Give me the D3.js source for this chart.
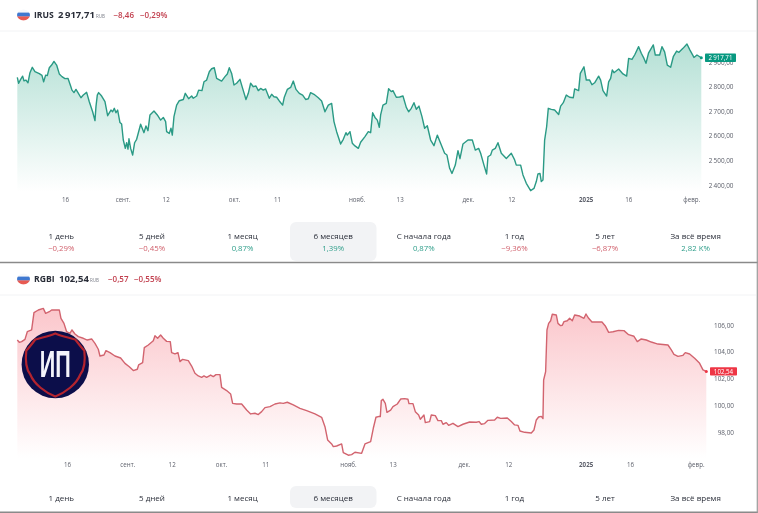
<!DOCTYPE html>
<html>
<head>
<meta charset="utf-8">
<script src="https://cdn.jsdelivr.net/npm/d3@7"></script>
<style>
  html, body { margin: 0; padding: 0; background: #fff; }
  svg { display: block; font-family: "Open Sans", sans-serif; filter: blur(0.4px); }
</style>
</head>
<body>
<div id="chart"></div>
<script>
// session position of every traced point, 0 = left end of the chart
const irusBars = [
  0,4,10,16,20,26,32,38,45,53, 66,74,79,85,90,96,103,110,118,126,
  134,143,152,160,164,170,176,182,191,198, 208,216,226,233,236,240,244,253,263,271,
  281,286,291,296,301,308,313,318,324,328, 332,335,340,346,352,358,370,380,386,392,
  398,410,420,430,438,445,448,456,461,465, 470,478,486,498,504,514,523,528,538,544,
  554,560,568,576,583,591,598,613,623,630, 636,643,650,658,668,676,686,693,700,708,
  716,723,730,738,745,756,763,770,778,786, 796,801,810,820,828,836,846,856,865,873,
  880,890,903,913,923,933,943,950,958,970, 978,986,990,998,1005,1013,1023,1030,1043,1053,
  1060,1066,1073,1080,1086,
  1090,1097,1107,1114,1122,1127,1137,1147,1157,1167, 1174,1182,1190,1197,1205,1214,1222,1230,1240,1250,
  1260,1272,1282,1289,1297,1304,1314,1322,1328,1337, 1352,1365,1374,1384,1390,1400,1408,1412,1420,1425,
  1434,1442,1452,1467,1482,1492,1497,1510,1517,1527, 1540,1550,1557,1562,1568,1572,1577,1582,1588,1593,
  1602,1612,1624,1630,1638,1647,1657,1668,1672,1684, 1689,1700,1707,1717,1724,1732,1744,1750,1757,1768,
  1774,1780,1785,1790,1804,1817,1828,1834,1844,1852, 1864,1872,1880,1886,1894,1908,1914,1927,1934,1942,
  1950,1960,1968,1978,1985,1997,2009,2018,2030,2039, 2052
];
const irusValues = [
  2838,2814,2830,2843,2824,2827,2816,2857,2879,2861, 2853,2846,2820,2847,2845,2877,2888,2903,2888,2852,
  2841,2833,2834,2803,2786,2776,2789,2776,2755,2766, 2777,2739,2698,2662,2719,2766,2776,2762,2739,2682,
  2705,2698,2712,2694,2705,2654,2648,2583,2549,2572, 2546,2588,2549,2522,2572,2586,2647,2613,2640,2621,
  2685,2701,2685,2664,2675,2658,2617,2610,2631,2603, 2678,2725,2743,2748,2773,2751,2762,2753,2762,2786,
  2784,2820,2827,2861,2873,2877,2834,2823,2841,2852, 2877,2854,2807,2814,2830,2793,2748,2773,2814,2800,
  2803,2784,2793,2786,2791,2753,2769,2759,2757,2742, 2725,2757,2789,2797,2823,2789,2773,2766,2748,2751,
  2776,2769,2755,2742,2698,2725,2732,2658,2617,2567, 2586,2613,2603,2617,2570,2559,2549,2574,2597,2617,
  2613,2694,2675,2664,2635,
  2685,2725,2732,2792,2780,2784,2757,2758,2762,2716, 2698,2712,2735,2708,2721,2678,2631,2641,2583,2560,
  2603,2563,2529,2522,2468,2447,2481,2540,2507,2567, 2583,2583,2542,2549,2529,2481,2445,2515,2522,2542,
  2549,2572,2529,2508,2529,2502,2481,2481,2441,2407, 2377,2386,2414,2445,2447,2414,2420,2583,2637,2712,
  2708,2705,2687,2721,2735,2766,2757,2755,2791,2784, 2854,2881,2827,2827,2808,2816,2843,2827,2784,2762,
  2820,2834,2868,2857,2872,2852,2843,2915,2911,2929, 2963,2936,2915,2895,2938,2970,2929,2929,2963,2942,
  2888,2879,2922,2945,2940,2956,2974,2949,2919,2929, 2917.71
];
const rgbiBars = [
  0,6,13,23,30,43,50,63,78,85, 96,103,126,131,140,148,158,164,173,183,
  198,210,223,233,243,248,260,266,278,293, 310,323,336,348,360,364,376,381,393,408,
  413,421,430,438,448,459,463,473,482,488, 496,513,523,533,543,553,560,568,580,588,
  596,608,613,628,640,646,658,673,688,700, 713,723,733,743,758,773,788,798,810,828,
  848,868,893,913,923,931,943,948,958,973, 978,993,1003,1013,1033,1043,1060,1068,1076,1086,
  1089,1092,1097,1104,1109,1120,1127,1140,1150,1162, 1172,1175,1187,1194,1204,1209,1220,1224,1237,1242,
  1254,1262,1272,1277,1287,1294,1307,1322,1337,1357, 1377,1385,1392,1402,1412,1432,1440,1450,1470,1482,
  1492,1502,1508,1522,1542,1550,1557,1564,1572,1577, 1579,1585,1589,1594,1600,1605,1617,1622,1630,1635,
  1640,1650,1657,1665,1672,1687,1700,1706,1714,1724, 1754,1764,1774,1787,1804,1820,1834,1850,1860,1872,
  1887,1902,1922,1952,1962,1970,1982,1997,2004,2017, 2032,2047,2057,2067
];
const rgbiValues = [
  104.88,104.71,104.76,104.93,105.5,105.63,106.92,107.12,107.24,106.87, 106.99,107.12,107.12,106.5,106.12,105.5,105.38,105.63,105.33,105.13,
  105.01,104.88,104.96,104.63,104.19,103.69,103.76,104.09,103.94,103.69, 103.54,103.14,102.89,102.6,102.7,103.02,103.19,104.31,104.51,104.83,
  105.2,105.01,105.25,105.01,104.78,104.76,103.94,103.84,103.94,103.27, 103.44,103.34,102.94,102.4,102.2,102.1,102.2,102.1,102.27,102.15,
  102.3,102.3,101.35,101.11,100.86,100.16,100.11,100.11,99.66,99.37, 99.42,99.32,99.54,99.84,99.91,100.11,100.19,100.16,100.24,100.04,
  99.79,99.61,99.37,99.12,98.42,97.43,97.13,96.93,96.98,97.13, 96.48,96.29,96.34,96.51,96.43,97.13,97.3,98.3,99.12,99.19,
  99.17,100.36,100.46,100.16,99.49,99.66,99.91,100.11,100.48,100.51, 100.46,100.14,100.14,99.54,99.29,98.97,99.29,98.72,98.8,99.29,
  99.24,98.87,98.87,98.6,98.72,98.52,98.67,98.42,98.6,98.77, 98.75,98.8,98.6,98.65,98.89,98.92,99.12,99.04,99.07,98.8,
  98.55,98.52,98.1,98,97.95,98.17,98.92,99.14,99.19,99.02, 101.9,102.52,105.63,106.12,106.32,106.8,106.75,106.12,105.95,105.98,
  106.25,106.32,106.5,106.32,106.75,106.67,106.5,106.82,106.5,106.22, 106.22,105.93,105.45,105.5,105.6,105.58,105.28,105.16,104.76,104.96,
  104.88,104.73,104.58,104.51,104.14,103.81,103.66,103.74,103.94,103.84, 103.52,103.14,102.65,102.54
];

const xTickLabels = ["16","сент.","12","окт.","11","нояб.","13","дек.","12","2025","16","февр."];
const irusXTicks = [143,316,445,650,779,1018,1147,1352,1482,1705,1833,2022];
const rgbiXTicks = [149,330,463,611,744,992,1126,1340,1473,1705,1838,2035];
const irusYTicks = [2400,2500,2600,2700,2800,2900];
const rgbiYTicks = [98,100,102,104,106];

const periodLabels = ["1 день","5 дней","1 месяц","6 месяцев","С начала года","1 год","5 лет","За всё время"];
const irusPeriodValues = ["−0,29%","−0,45%","0,87%","1,39%","0,87%","−9,36%","−6,87%","2,82 K%"];

const width = 758, height = 513;
const ruLocale = d3.formatLocale({decimal: ",", thousands: "\u2009", grouping: [3], currency: ["", ""]});
const priceFormat = ruLocale.format(",.2f");

const svg = d3.select("#chart").append("svg")
  .attr("width", width)
  .attr("height", height);
const defs = svg.append("defs");

function drawHeader(cfg) {
  const g = svg.append("g");
  const clipId = "flag-" + cfg.name;
  const fy = cfg.headerY;
  defs.append("clipPath").attr("id", clipId)
    .append("ellipse").attr("cx", 23.5).attr("cy", fy).attr("rx", 6.5).attr("ry", 5.4);
  const flag = g.append("g").attr("clip-path", "url(#" + clipId + ")");
  flag.append("rect").attr("x", 17).attr("y", fy - 6).attr("width", 13).attr("height", 4).attr("fill", "#f6f7fa");
  flag.append("rect").attr("x", 17).attr("y", fy - 2.4).attr("width", 13).attr("height", 4).attr("fill", "#3f78d0");
  flag.append("rect").attr("x", 17).attr("y", fy + 1.4).attr("width", 13).attr("height", 4.4).attr("fill", "#e85a52");

  const label = (x, text, size, weight, color) => g.append("text")
    .attr("x", x).attr("y", fy + 3)
    .attr("font-size", size).attr("font-weight", weight).attr("fill", color)
    .text(text);
  label(34, cfg.name, 8.6, 700, "#2a2e39");
  label(cfg.priceX, cfg.priceText, 9.5, 700, "#2a2e39");
  label(cfg.rubX, "RUB", 4.5, 400, "#787b86");
  label(cfg.changeX, cfg.changeText, 8, 600, "#c2404f");
  label(cfg.percentX, cfg.percentText, 8, 600, "#c2404f");

  g.append("line")
    .attr("x1", 0).attr("x2", 756)
    .attr("y1", cfg.separatorY).attr("y2", cfg.separatorY)
    .attr("stroke", "#f2f3f5");
}

function drawPlot(cfg) {
  const x = d3.scaleLinear().domain([0, d3.max(cfg.bars)]).range(cfg.xRange);
  const y = d3.scaleLinear().domain(cfg.yDomain).range(cfg.yRange);
  const points = cfg.bars.map((b, i) => [b, cfg.values[i]]);
  const gradId = "grad-" + cfg.name;

  const grad = defs.append("linearGradient").attr("id", gradId)
    .attr("gradientUnits", "userSpaceOnUse")
    .attr("x1", 0).attr("x2", 0).attr("y1", cfg.fillTop).attr("y2", cfg.fillBottom);
  grad.append("stop").attr("offset", 0).attr("stop-color", cfg.fillColor);
  grad.append("stop").attr("offset", 1).attr("stop-color", "#fff");

  const area = d3.area()
    .x(d => x(d[0]))
    .y0(cfg.fillBottom)
    .y1(d => y(d[1]));
  const line = d3.line()
    .x(d => x(d[0]))
    .y(d => y(d[1]));

  svg.append("path").attr("d", area(points)).attr("fill", "url(#" + gradId + ")");
  svg.append("path").attr("d", line(points))
    .attr("fill", "none")
    .attr("stroke", cfg.lineColor)
    .attr("stroke-width", 1.4)
    .attr("stroke-linejoin", "round");

  const xAxis = d3.axisBottom(x)
    .tickValues(cfg.xTicks)
    .tickFormat((d, i) => xTickLabels[i])
    .tickSize(0)
    .tickPadding(0);
  const xg = svg.append("g").attr("transform", "translate(0," + cfg.xAxisY + ")").call(xAxis);
  xg.select(".domain").remove();
  xg.selectAll("text")
    .attr("font-family", "'Open Sans', sans-serif")
    .attr("font-size", 6.2)
    .attr("fill", "#5d606b")
    .attr("font-weight", (d, i) => xTickLabels[i] === "2025" ? 700 : 400);

  const yAxis = d3.axisLeft(y)
    .tickValues(cfg.yTicks)
    .tickFormat(priceFormat)
    .tickSize(0)
    .tickPadding(0);
  const yg = svg.append("g").attr("transform", "translate(" + cfg.yAxisX + ",0)").call(yAxis);
  yg.select(".domain").remove();
  yg.selectAll("text")
    .attr("font-family", "'Open Sans', sans-serif")
    .attr("font-size", 6.4)
    .attr("fill", "#5d606b");

  // last price dot and tag
  const last = points[points.length - 1];
  svg.append("circle")
    .attr("cx", x(last[0])).attr("cy", y(last[1])).attr("r", 1.5)
    .attr("fill", cfg.tagColor);
  svg.append("rect")
    .attr("x", cfg.tagX).attr("y", y(last[1]) - 4.2)
    .attr("width", cfg.tagWidth).attr("height", 8.4)
    .attr("rx", 0.8)
    .attr("fill", cfg.tagColor);
  svg.append("text")
    .attr("x", cfg.tagX + cfg.tagWidth / 2).attr("y", y(last[1]) + 2.2)
    .attr("text-anchor", "middle")
    .attr("font-size", 6.2)
    .attr("fill", "#fff")
    .text(priceFormat(last[1]));
}

function drawPeriods(cfg) {
  const g = svg.append("g");
  const band = d3.scaleBand().domain(d3.range(periodLabels.length)).range([16, 741]);
  g.append("rect")
    .attr("x", 290).attr("y", cfg.boxY)
    .attr("width", 86.5).attr("height", cfg.boxHeight)
    .attr("rx", 6)
    .attr("fill", "#f2f3f5");
  g.selectAll(".period").data(periodLabels).enter().append("text")
    .attr("class", "period")
    .attr("x", (d, i) => band(i) + band.bandwidth() / 2)
    .attr("y", cfg.labelY)
    .attr("text-anchor", "middle")
    .attr("font-size", 8)
    .attr("fill", "#2a2e39")
    .text(d => d);
  if (cfg.values) {
    g.selectAll(".period-value").data(cfg.values).enter().append("text")
      .attr("class", "period-value")
      .attr("x", (d, i) => band(i) + band.bandwidth() / 2)
      .attr("y", cfg.valueY)
      .attr("text-anchor", "middle")
      .attr("font-size", 7.8)
      .attr("fill", d => d[0] === "−" ? "#d0606c" : "#2f9e8a")
      .text(d => d);
  }
}

function drawLogo() {
  const g = svg.append("g").attr("transform", "translate(55.3,364.5)");
  g.append("circle").attr("r", 33.7).attr("fill", "#0c0e4a");
  g.append("path")
    .attr("d", "M0,-31 C-7,-28 -14,-27 -20,-25 C-23,-21 -26,-17 -29,-14 C-30,-5 -29,5 -25,10 C-21,20 -10,28 0,32 C10,28 21,20 25,10 C29,5 30,-5 29,-14 C26,-17 23,-21 20,-25 C14,-27 7,-28 0,-31 Z")
    .attr("fill", "none")
    .attr("stroke", "#b3242f")
    .attr("stroke-width", 2.2);
  g.append("text")
    .attr("x", 0).attr("y", 12)
    .attr("text-anchor", "middle")
    .attr("font-family", "'Liberation Sans Narrow', 'Liberation Sans', sans-serif")
    .attr("font-size", 37)
    .attr("font-weight", 700)
    .attr("textLength", 31)
    .attr("lengthAdjust", "spacingAndGlyphs")
    .attr("fill", "#f4f4fb")
    .text("ИП");
}

drawHeader({name: "IRUS", headerY: 15, priceX: 58, priceText: "2\u2009917,71", rubX: 96, changeX: 113.5, changeText: "−8,46", percentX: 140, percentText: "−0,29%", separatorY: 31});
drawPlot({
  name: "IRUS", bars: irusBars, values: irusValues, xTicks: irusXTicks, yTicks: irusYTicks,
  xRange: [17.3, 701.3], yDomain: [2400, 2800], yRange: [185, 86.7],
  fillTop: 44, fillBottom: 192, fillColor: "#b4e0d5", lineColor: "#2a9a85", tagColor: "#089981",
  xAxisY: 198, yAxisX: 733.5, tagX: 705, tagWidth: 31
});
drawPeriods({boxY: 222, boxHeight: 39, labelY: 238.5, valueY: 250.5, values: irusPeriodValues});

drawHeader({name: "RGBI", headerY: 279, priceX: 59, priceText: "102,54", rubX: 90, changeX: 108, changeText: "−0,57", percentX: 134, percentText: "−0,55%", separatorY: 295});
drawPlot({
  name: "RGBI", bars: rgbiBars, values: rgbiValues, xTicks: rgbiXTicks, yTicks: rgbiYTicks,
  xRange: [17.3, 706.3], yDomain: [98, 106], yRange: [432.3, 325],
  fillTop: 308, fillBottom: 458, fillColor: "#fbc6cb", lineColor: "#d2646f", tagColor: "#ee3645",
  xAxisY: 463, yAxisX: 734, tagX: 710, tagWidth: 27
});
drawPeriods({boxY: 486, boxHeight: 22, labelY: 500.5});
drawLogo();

// screenshot frame lines
svg.append("line").attr("x1", 0).attr("x2", 758).attr("y1", 262.5).attr("y2", 262.5).attr("stroke", "#8a8a8a").attr("stroke-width", 1.4);
svg.append("line").attr("x1", 0).attr("x2", 758).attr("y1", 512.3).attr("y2", 512.3).attr("stroke", "#8a8a8a").attr("stroke-width", 1.4);
svg.append("line").attr("x1", 757.3).attr("x2", 757.3).attr("y1", 0).attr("y2", 513).attr("stroke", "#9a9a9a").attr("stroke-width", 1.2);
</script>
</body>
</html>
